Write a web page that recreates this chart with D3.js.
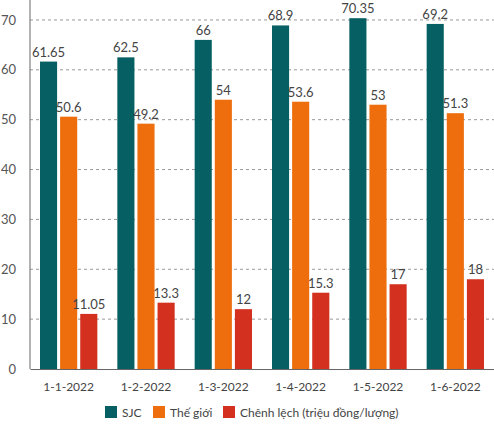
<!DOCTYPE html>
<html>
<head>
<meta charset="utf-8">
<script src="https://cdn.jsdelivr.net/npm/d3@7"></script>
<style>
  body { margin: 0; background: #fff; }
  text { font-family: Lato, "Open Sans", sans-serif; }
</style>
</head>
<body>
<svg width="494" height="425"></svg>
<script>
var dates = ["1-1-2022", "1-2-2022", "1-3-2022", "1-4-2022", "1-5-2022", "1-6-2022"];
var seriesNames = ["SJC", "Thế giới", "Chênh lệch (triệu đồng/lượng)"];
var sjc = [61.65, 62.5, 66, 68.9, 70.35, 69.2];
var theGioi = [50.6, 49.2, 54, 53.6, 53, 51.3];
var chenhLech = [11.05, 13.3, 12, 15.3, 17, 18];
var yTicks = [0, 10, 20, 30, 40, 50, 60, 70];
var colors = ["#065f63", "#ee6d0c", "#d3301f"];

var svg = d3.select("svg");
var width = +svg.attr("width");
var margin = { top: 0, right: 0, left: 30, bottom: 56 };
var innerWidth = width - margin.left - margin.right;
var innerHeight = 369 - margin.top;

var allSeries = [sjc, theGioi, chenhLech];
var data = dates.map(function (d, i) {
  return { date: d, values: allSeries.map(function (s, k) { return { key: k, value: s[i] }; }) };
});

var x0 = d3.scaleBand().domain(dates).range([0, innerWidth]);
var x1 = d3.scaleBand().domain([0, 1, 2]).range([10, x0.bandwidth() - 10]).paddingInner(0.15);
var y = d3.scaleLinear().domain([0, 74]).range([innerHeight, 0]);

var g = svg.append("g").attr("transform", "translate(" + margin.left + "," + margin.top + ")");

// grid
g.selectAll(".grid").data(yTicks.filter(function (t) { return t > 0; }))
  .enter().append("line")
  .attr("x1", 0).attr("x2", innerWidth)
  .attr("y1", function (d) { return y(d); }).attr("y2", function (d) { return y(d); })
  .attr("stroke", "#9a9a9a").attr("stroke-dasharray", "3,3").attr("stroke-width", 1);

// y axis
var yAxis = d3.axisLeft(y).tickValues(yTicks).tickSize(0).tickPadding(14);
var yAxisGroup = g.append("g").call(yAxis);
yAxisGroup.select(".domain").remove();
yAxisGroup.selectAll("text").attr("fill", "#555").style("font-size", "13px");

// bars
var groups = g.selectAll(".grp").data(data).enter().append("g")
  .attr("transform", function (d) { return "translate(" + x0(d.date) + ",0)"; });

groups.selectAll("rect").data(function (d) { return d.values; }).enter().append("rect")
  .attr("x", function (d) { return x1(d.key); })
  .attr("y", function (d) { return y(d.value); })
  .attr("width", x1.bandwidth())
  .attr("height", function (d) { return innerHeight - y(d.value); })
  .attr("fill", function (d) { return colors[d.key]; });

groups.selectAll(".lbl").data(function (d) { return d.values; }).enter().append("text")
  .attr("x", function (d) { return x1(d.key) + x1.bandwidth() / 2; })
  .attr("y", function (d) { return y(d.value) - 5; })
  .attr("text-anchor", "middle")
  .attr("fill", "#444")
  .style("font-size", "13px")
  .text(function (d) { return d.value; });

// axis lines
g.append("line").attr("x1", 0).attr("x2", 0).attr("y1", 0).attr("y2", innerHeight)
  .attr("stroke", "#666").attr("stroke-width", 1);

var xAxis = d3.axisBottom(x0).tickSize(0).tickPadding(13);
var xAxisGroup = g.append("g").attr("transform", "translate(0," + innerHeight + ")").call(xAxis);
xAxisGroup.select(".domain").attr("stroke", "#666");
xAxisGroup.selectAll("text").attr("fill", "#444").style("font-size", "12px");

// legend
var legendX = [105, 153, 223];
var legend = svg.append("g").attr("transform", "translate(0,406)");
var items = legend.selectAll("g").data(seriesNames).enter().append("g")
  .attr("transform", function (d, i) { return "translate(" + legendX[i] + ",0)"; });
items.append("rect").attr("width", 12).attr("height", 12).attr("fill", function (d, i) { return colors[i]; });
items.append("text").attr("x", 17).attr("y", 10.5).attr("fill", "#444")
  .style("font-size", "12px").text(function (d) { return d; });
</script>
</body>
</html>
